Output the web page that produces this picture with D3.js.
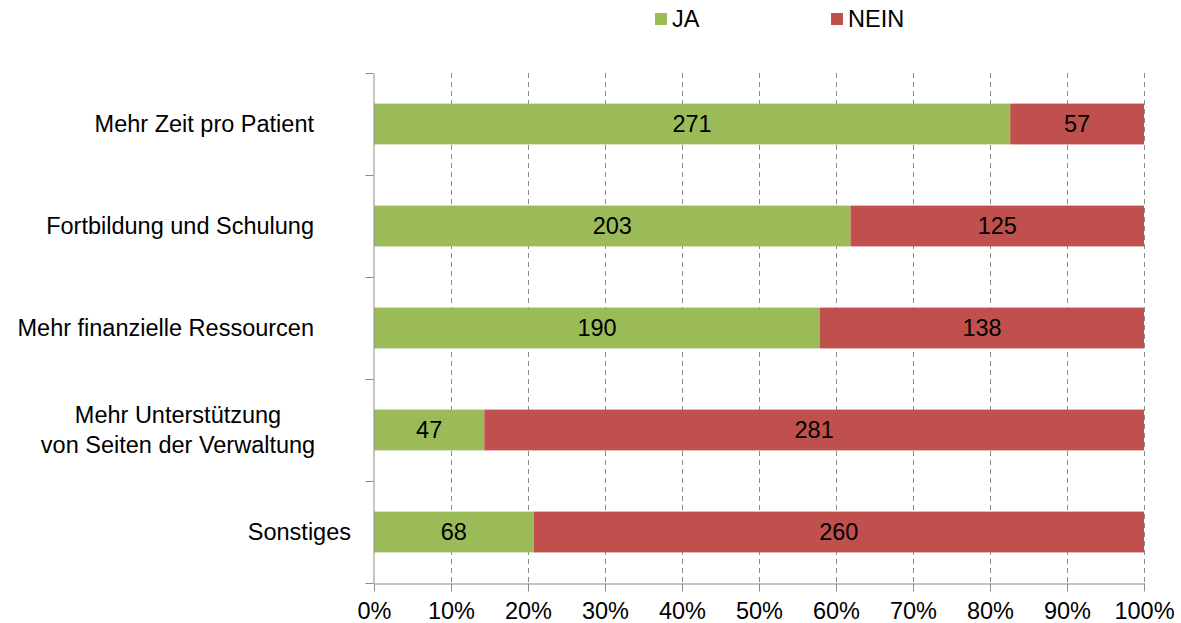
<!DOCTYPE html>
<html><head><meta charset="utf-8">
<script src="https://cdn.jsdelivr.net/npm/d3@7"></script>
<style>body{margin:0;background:#fff}text{font-family:"Liberation Sans",Arial,sans-serif}</style>
</head><body><svg id="c" width="1181" height="623"></svg>
<script>
const categories = [["Mehr Zeit pro Patient"],["Fortbildung und Schulung"],["Mehr finanzielle Ressourcen"],["Mehr Unterstützung","von Seiten der Verwaltung"],["Sonstiges"]];
const ja = [271,203,190,47,68];
const nein = [57,125,138,281,260];
const seriesNames = ["JA","NEIN"];
const colors = ["#9BBB59","#C0504D"];
const ticks = [0,0.1,0.2,0.3,0.4,0.5,0.6,0.7,0.8,0.9,1];

const FS = 23.5;
const svg = d3.select("#c");
const L=374,R=1144,T=73,B=583;
const x = d3.scaleLinear().domain([0,1]).range([L,R]);
const y = d3.scaleBand().domain(d3.range(categories.length)).range([T,B]).paddingInner(0.6).paddingOuter(0.3);
const yb = d3.scaleBand().domain(d3.range(categories.length)).range([T,B]);

// grid
svg.append("g").selectAll("line").data(ticks.slice(1)).join("line")
 .attr("x1",d=>x(d)+0.5).attr("x2",d=>x(d)+0.5).attr("y1",T).attr("y2",B)
 .attr("stroke","#8c8c8c").attr("stroke-width",1).attr("stroke-dasharray","5,4");

// bars
categories.forEach((c,i)=>{
  const tot=ja[i]+nein[i];
  const vals=[ja[i],nein[i]];
  let acc=0;
  vals.forEach((v,k)=>{
    const x0=x(acc/tot), x1=x((acc+v)/tot);
    svg.append("rect").attr("x",x0).attr("y",y(i)).attr("width",x1-x0).attr("height",y.bandwidth()).attr("fill",colors[k]);
    svg.append("text").attr("x",(x0+x1)/2).attr("y",y(i)+y.bandwidth()/2).attr("dy","0.35em")
      .attr("text-anchor","middle").attr("font-size",FS).attr("fill","#000").text(v);
    acc+=v;
  });
  const cy=yb(i)+yb.bandwidth()/2;
  const t=svg.append("text").attr("font-size",FS).attr("fill","#000");
  if(c.length>1){
    t.attr("text-anchor","middle");
    c.forEach((line,j)=>{
      t.append("tspan").attr("x",178).attr("y",cy+(j-(c.length-1)/2)*30).attr("dy","0.35em").text(line);
    });
  } else {
    t.attr("text-anchor","end").attr("x",i===4?351:314).attr("y",cy).attr("dy","0.35em").text(c[0]);
  }
});

// axes
const xa = d3.axisBottom(x).tickValues(ticks).tickFormat(d3.format(".0%")).tickSize(8).tickSizeOuter(0);
const gx = svg.append("g").attr("transform",`translate(0,${B+0.5})`).call(xa);
gx.select(".domain").attr("stroke","#8c8c8c");
gx.selectAll(".tick line").attr("stroke","#8c8c8c");
gx.selectAll(".tick text").attr("font-size",FS).attr("fill","#000").attr("y",27).attr("dy","0.35em").attr("font-family","Liberation Sans, Arial, sans-serif");

const ya = d3.axisLeft(d3.scaleLinear().domain([0,categories.length]).range([T,B])).tickValues(d3.range(categories.length+1)).tickFormat("").tickSize(8).tickSizeOuter(0);
const gy = svg.append("g").attr("transform",`translate(${L-0.5},0)`).call(ya);
gy.select(".domain").attr("stroke","#8c8c8c");
gy.selectAll(".tick line").attr("stroke","#8c8c8c");

// legend
const lx=[655,831];
seriesNames.forEach((s,k)=>{
  svg.append("rect").attr("x",lx[k]).attr("y",13).attr("width",12).attr("height",12).attr("fill",colors[k]);
  svg.append("text").attr("x",lx[k]+17).attr("y",19).attr("dy","0.35em").attr("font-size",FS).attr("fill","#000").text(s);
});
</script></body></html>
